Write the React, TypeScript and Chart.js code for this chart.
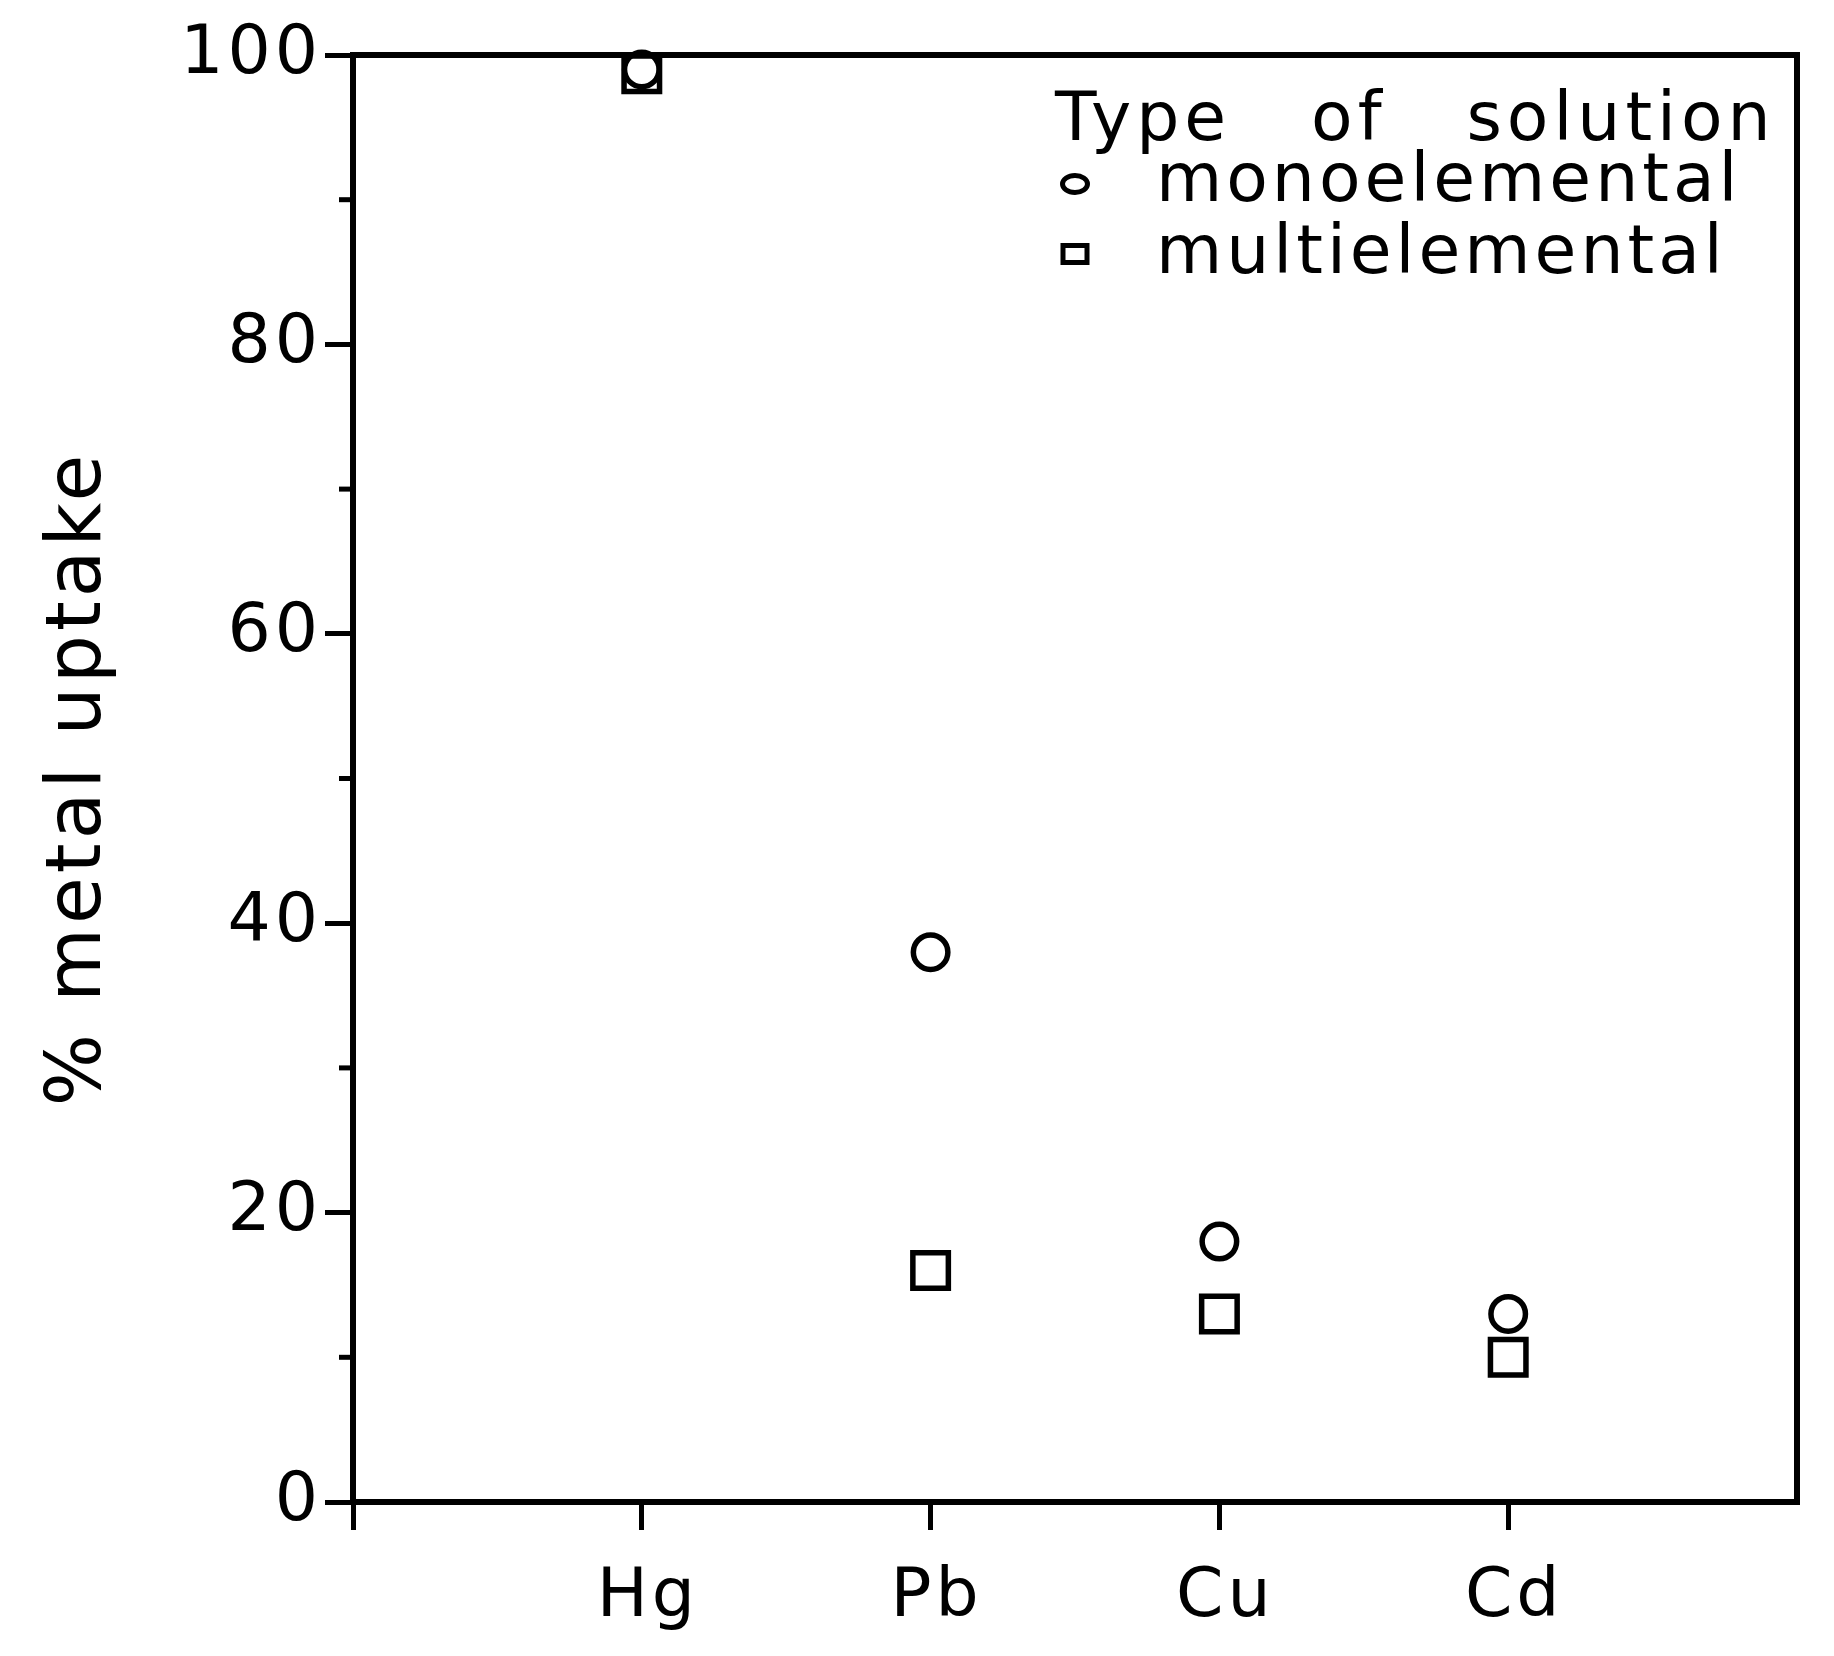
import React, { useEffect, useRef } from 'react';
import { Chart, registerables } from 'chart.js';

Chart.register(...registerables);

const categories = ['Hg', 'Pb', 'Cu', 'Cd'];
const monoelemental = [99, 38, 18, 13];
const multielemental = [98.7, 16, 13, 10];
const seriesLabels = ['monoelemental', 'multielemental'];
const yMinorTicks = [10, 30, 50, 70, 90];
const xTickPositions = [0, 1, 2, 3, 4];
const legendTitle = 'Type   of   solution';
const yAxisTitle = '% metal uptake';

const FONT = "'DejaVu Sans', 'Noto Sans', sans-serif";

const spacingPlugin = {
  id: 'letterSpacing',
  beforeDraw(chart: any) {
    try { (chart.ctx as any).letterSpacing = '4px'; } catch (e) {}
  },
};

const framePlugin = {
  id: 'frameAndMinor',
  beforeDatasetsDraw(chart: any) {
    const { ctx, chartArea } = chart;
    const { left, right, top, bottom } = chartArea;
    ctx.save();
    ctx.strokeStyle = '#000';
    ctx.lineWidth = 6;
    ctx.lineJoin = 'miter';
    ctx.strokeRect(left, top, right - left, bottom - top);
    const yScale = chart.scales.y;
    ctx.lineWidth = 5;
    ctx.lineCap = 'butt';
    yMinorTicks.forEach((v) => {
      const py = yScale.getPixelForValue(v);
      ctx.beginPath();
      ctx.moveTo(left - 14, py);
      ctx.lineTo(left, py);
      ctx.stroke();
    });
    ctx.restore();
  },
};

const legendPlugin = {
  id: 'customLegend',
  afterDraw(chart: any) {
    const { ctx, chartArea } = chart;
    const x0 = chartArea.right - 742;
    const top = chartArea.top;
    ctx.save();
    ctx.fillStyle = '#000';
    ctx.strokeStyle = '#000';
    ctx.font = `68px ${FONT}`;
    ctx.textBaseline = 'alphabetic';
    ctx.textAlign = 'left';
    try { (ctx as any).letterSpacing = '5px'; } catch (e) {}
    ctx.fillText(legendTitle, x0, top + 85);
    try { (ctx as any).letterSpacing = '4px'; } catch (e) {}
    const textX = x0 + 101;
    const labels = chart.data.datasets.map((d: any) => d.label);
    ctx.lineWidth = 5;
    // monoelemental marker (circle)
    ctx.beginPath();
    ctx.ellipse(x0 + 20, top + 129, 12.5, 8.5, 0, 0, Math.PI * 2);
    ctx.stroke();
    ctx.fillText(labels[0], textX, top + 146);
    // multielemental marker (square)
    ctx.beginPath();
    ctx.rect(x0 + 20 - 12, top + 199 - 8.5, 24, 17);
    ctx.stroke();
    ctx.fillText(labels[1], textX, top + 218);
    ctx.restore();
  },
};

export default function App() {
  const canvasRef = useRef<HTMLCanvasElement | null>(null);

  useEffect(() => {
    if (!canvasRef.current) return;
    const chart = new Chart(canvasRef.current, {
      type: 'scatter',
      data: {
        datasets: [
          {
            label: seriesLabels[0],
            data: monoelemental.map((v, i) => ({ x: i + 1, y: v })),
            pointStyle: 'circle',
            pointRadius: 17.25,
            pointHoverRadius: 17.25,
            borderWidth: 5.5,
            pointBorderWidth: 5.5,
            borderColor: '#000',
            backgroundColor: 'rgba(255,255,255,0)',
            pointBackgroundColor: 'rgba(255,255,255,0)',
            pointBorderColor: '#000',
            showLine: false,
            clip: false as any,
          },
          {
            label: seriesLabels[1],
            data: multielemental.map((v, i) => ({ x: i + 1, y: v })),
            pointStyle: 'rect',
            pointRadius: 25.1,
            pointHoverRadius: 25.1,
            borderWidth: 5.5,
            pointBorderWidth: 5.5,
            borderColor: '#000',
            backgroundColor: 'rgba(255,255,255,0)',
            pointBackgroundColor: 'rgba(255,255,255,0)',
            pointBorderColor: '#000',
            showLine: false,
            clip: false as any,
          },
        ],
      },
      options: {
        responsive: false,
        animation: false,
        events: [],
        layout: { padding: { top: 55, right: 37, bottom: 0, left: 0 } },
        plugins: {
          legend: { display: false },
          tooltip: { enabled: false },
          title: { display: false },
        },
        scales: {
          x: {
            type: 'linear',
            min: 0,
            max: 5,
            afterBuildTicks: (scale: any) => {
              scale.ticks = xTickPositions.map((v) => ({ value: v }));
            },
            afterFit: (scale: any) => {
              scale.height = 154;
            },
            border: { display: false },
            grid: {
              drawOnChartArea: false,
              drawTicks: true,
              tickLength: 28,
              color: '#000',
              lineWidth: 5,
              tickWidth: 5,
            },
            ticks: {
              autoSkip: false,
              maxRotation: 0,
              padding: 28,
              labelOffset: 6,
              color: '#000',
              font: { family: FONT, size: 68 },
              callback: (value: any) => categories[Number(value) - 1] ?? '',
            },
          },
          y: {
            type: 'linear',
            min: 0,
            max: 100,
            afterFit: (scale: any) => {
              scale.width = 353;
            },
            border: { display: false },
            grid: {
              drawOnChartArea: false,
              drawTicks: true,
              tickLength: 28,
              color: '#000',
              lineWidth: 5,
              tickWidth: 5,
            },
            ticks: {
              stepSize: 20,
              padding: 3,
              color: '#000',
              font: { family: FONT, size: 68 },
            },
            title: {
              display: true,
              text: yAxisTitle,
              color: '#000',
              font: { family: FONT, size: 76 },
              padding: { top: 35, bottom: 0 },
            },
          },
        },
      },
      plugins: [spacingPlugin, framePlugin, legendPlugin],
    });
    return () => chart.destroy();
  }, []);

  return (
    <div style={{ position: 'absolute', left: 0, top: 0, width: 1834, height: 1656, background: '#fff' }}>
      <canvas ref={canvasRef} width={1834} height={1656} style={{ display: 'block' }} />
    </div>
  );
}
